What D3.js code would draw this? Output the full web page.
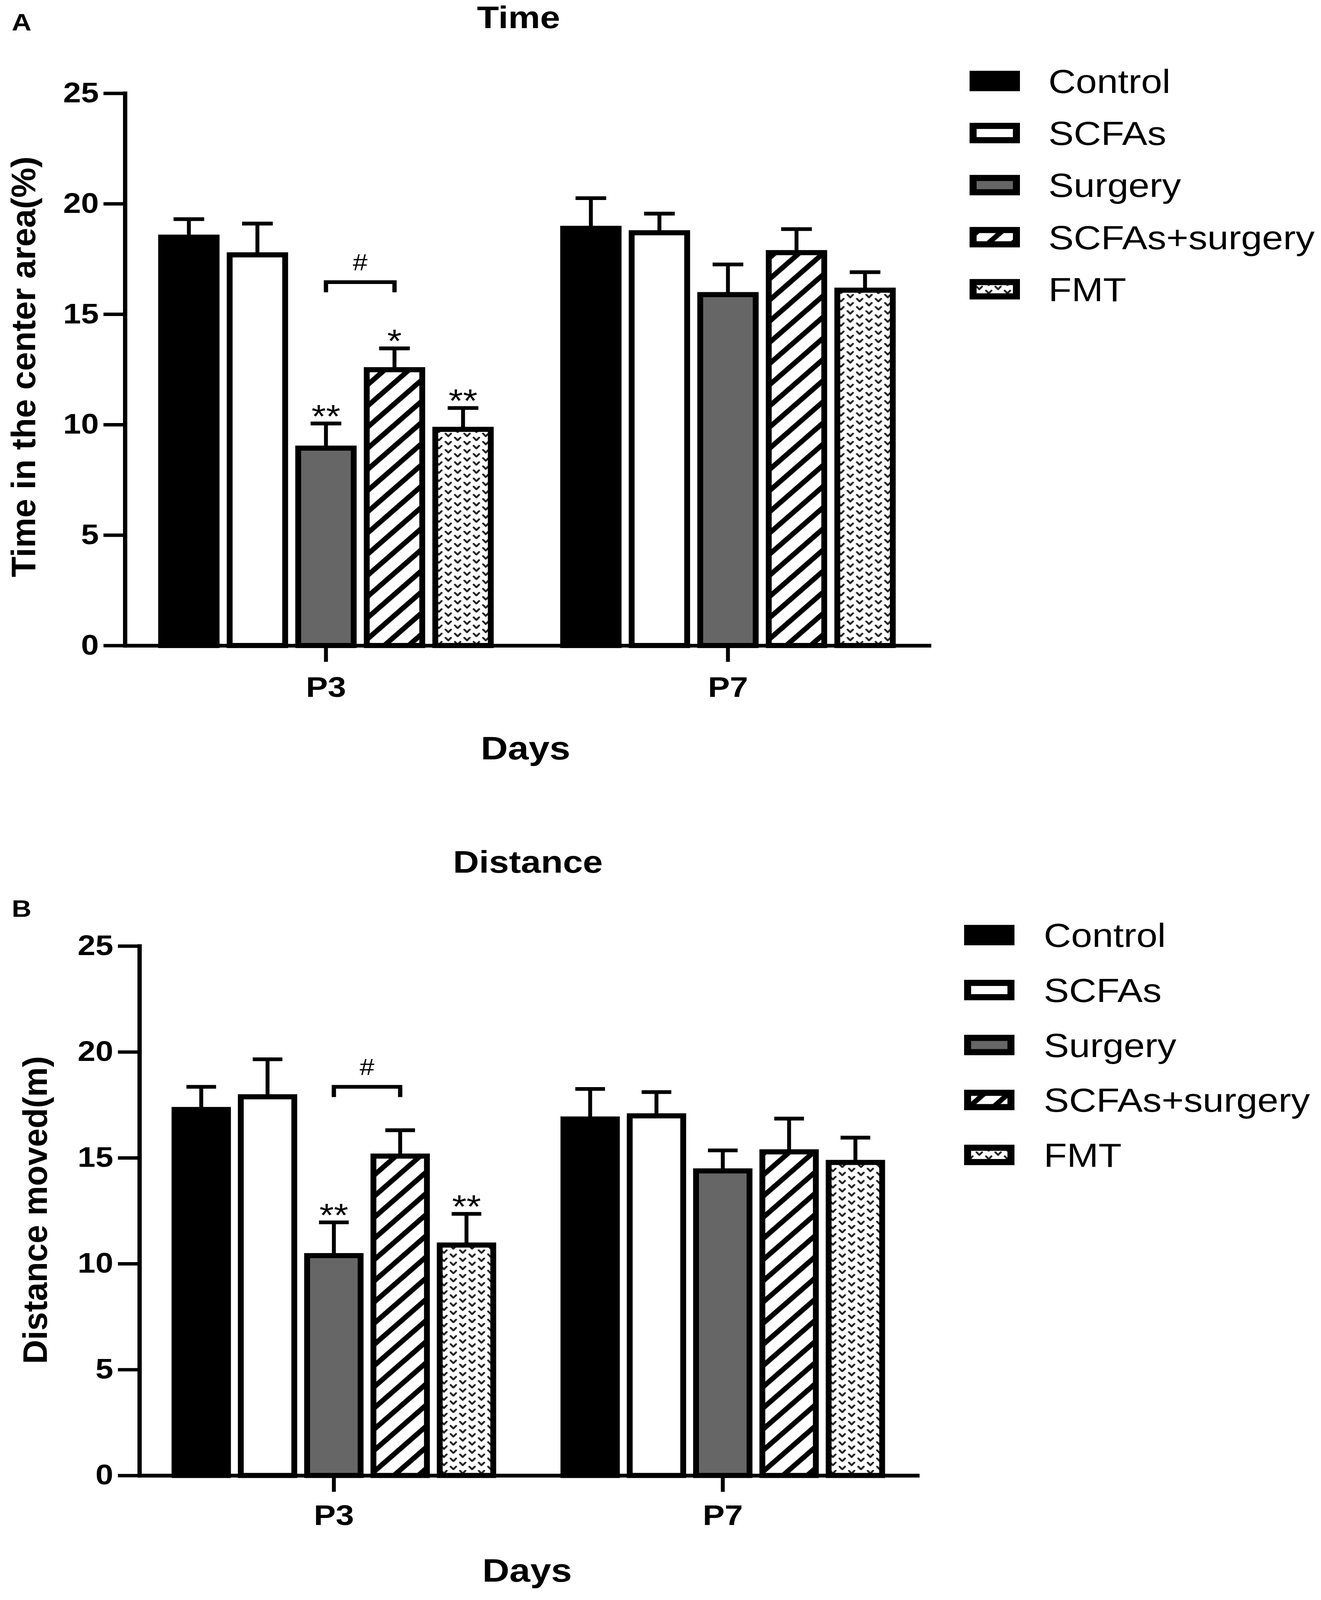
<!DOCTYPE html>
<html lang="en">
<head>
<meta charset="UTF-8">
<title>Time and distance in the open field</title>
<style>
  html, body { margin: 0; padding: 0; background: #fff; overflow: hidden; }
  svg { display: block; }
  text { font-family: "Liberation Sans", Arial, sans-serif; fill: #000; }
</style>
<script src="https://d3js.org/d3.v7.min.js"></script>
</head>
<body>
<script>
var days = ["P3", "P7"];
var groups = ["Control", "SCFAs", "Surgery", "SCFAs+surgery", "FMT"];
var yTicks = [0, 5, 10, 15, 20, 25];

// mean and SEM, one row per day
var timeMean = [[18.6, 17.8, 9.05, 12.6, 9.9], [19.0, 18.8, 16.0, 17.9, 16.2]];
var timeErr = [[0.7, 1.3, 1.0, 0.85, 0.85], [1.25, 0.75, 1.25, 0.95, 0.7]];
var distMean = [[17.4, 18.0, 10.5, 15.2, 11.0], [16.95, 17.1, 14.5, 15.4, 14.9]];
var distErr = [[0.95, 1.65, 1.45, 1.1, 1.35], [1.3, 1.0, 0.85, 1.45, 1.05]];

var timeStars = [["", "", "**", "*", "**"], ["", "", "", "", ""]];
var distStars = [["", "", "**", "", "**"], ["", "", "", "", ""]];
var timeBracket = { day: "P3", from: "Surgery", to: "SCFAs+surgery", at: 16.45, label: "#" };
var distBracket = { day: "P3", from: "Surgery", to: "SCFAs+surgery", at: 18.35, label: "#" };

var fills = {
  "Control": "#000",
  "SCFAs": "#fff",
  "Surgery": "#666",
  "SCFAs+surgery": "url(#hatch)",
  "FMT": "url(#chev)"
};

// the figure is laid out on a 3383 x 4702 canvas and stretched to the window
var W = 3383, H = 4702;
var svg = d3.select("body").append("svg")
  .attr("viewBox", "0 0 " + W + " " + H)
  .attr("preserveAspectRatio", "none")
  .attr("width", window.innerWidth)
  .attr("height", window.innerHeight);

var defs = svg.append("defs");
var hatch = defs.append("pattern")
  .attr("id", "hatch")
  .attr("patternUnits", "userSpaceOnUse")
  .attr("width", 44).attr("height", 44)
  .attr("patternTransform", "rotate(45)");
hatch.append("rect").attr("width", 44).attr("height", 44).attr("fill", "#fff");
hatch.append("rect").attr("width", 14).attr("height", 44).attr("fill", "#000");

var chev = defs.append("pattern")
  .attr("id", "chev")
  .attr("patternUnits", "userSpaceOnUse")
  .attr("width", 48).attr("height", 24);
chev.append("rect").attr("width", 48).attr("height", 24).attr("fill", "#fff");
[[12, 6], [36, 18]].forEach(function (p) {
  chev.append("path")
    .attr("d", "M" + (p[0] - 7) + "," + (p[1] - 4) + "L" + p[0] + "," + (p[1] + 4) + "L" + (p[0] + 7) + "," + (p[1] - 4))
    .attr("fill", "none").attr("stroke", "#222")
    .attr("stroke-width", 5).attr("stroke-linecap", "round").attr("stroke-linejoin", "round");
});

function drawPanel(p) {
  var sw = 15;
  var y = d3.scaleLinear().domain([0, 25]).range([p.bottom, p.top]);
  var x0 = d3.scaleBand().domain(days).range([p.left, p.right]);
  var x1 = d3.scaleBand().domain(groups).range([0, x0.bandwidth()])
    .paddingInner(0.105).paddingOuter(0.485);
  var bw = x1.bandwidth();

  var g = svg.append("g");

  days.forEach(function (day, di) {
    var dg = g.append("g").attr("transform", "translate(" + x0(day) + ",0)");
    groups.forEach(function (grp, gi) {
      var v = p.mean[di][gi], e = p.err[di][gi];
      var cx = x1(grp) + bw / 2;
      // error bar (upper only)
      dg.append("line")
        .attr("x1", cx).attr("x2", cx)
        .attr("y1", y(v) + sw).attr("y2", y(v + e))
        .attr("stroke", "#000").attr("stroke-width", 10);
      dg.append("line")
        .attr("x1", cx - bw / 4).attr("x2", cx + bw / 4)
        .attr("y1", y(v + e)).attr("y2", y(v + e))
        .attr("stroke", "#000").attr("stroke-width", 11);
      dg.append("rect")
        .attr("x", x1(grp) + sw / 2)
        .attr("width", bw - sw)
        .attr("y", y(v) + sw / 2)
        .attr("height", y(0) - y(v) - sw / 2)
        .attr("fill", fills[grp])
        .attr("stroke", "#000")
        .attr("stroke-width", sw);
      if (p.stars[di][gi]) {
        dg.append("text")
          .attr("x", cx).attr("y", y(v + e) + 12)
          .attr("text-anchor", "middle")
          .attr("font-size", 95)
          .text(p.stars[di][gi]);
      }
    });
  });

  // significance bracket
  var b = p.bracket;
  var bx1 = x0(b.day) + x1(b.from) + bw / 2;
  var bx2 = x0(b.day) + x1(b.to) + bw / 2;
  g.append("path")
    .attr("d", "M" + bx1 + "," + (y(b.at) + 30) + "V" + y(b.at) + "H" + bx2 + "V" + (y(b.at) + 30))
    .attr("fill", "none").attr("stroke", "#000").attr("stroke-width", 11);
  g.append("text")
    .attr("x", (bx1 + bx2) / 2).attr("y", y(b.at) - 35)
    .attr("text-anchor", "middle").attr("font-size", 68)
    .text(b.label);

  // axes
  var yAxis = g.append("g")
    .attr("transform", "translate(" + p.left + ",0)")
    .call(d3.axisLeft(y).tickValues(yTicks).tickSize(55).tickSizeOuter(0).tickPadding(12));
  var xAxis = g.append("g")
    .attr("transform", "translate(0," + p.bottom + ")")
    .call(d3.axisBottom(x0).tickSize(48).tickSizeOuter(0).tickPadding(p.xPad));
  [yAxis, xAxis].forEach(function (ax) {
    ax.select(".domain").attr("stroke-width", 11).attr("stroke-linecap", "square");
    ax.selectAll(".tick line").attr("stroke-width", 10);
    ax.selectAll(".tick text")
      .attr("font-family", "Liberation Sans, Arial, sans-serif")
      .attr("font-weight", "bold");
  });
  yAxis.selectAll(".tick text").attr("font-size", 82);
  xAxis.selectAll(".tick text").attr("font-size", 84);

  // titles
  g.append("text")
    .attr("x", p.titleX).attr("y", p.titleY)
    .attr("text-anchor", "middle").attr("font-size", 92).attr("font-weight", "bold")
    .text(p.title);
  g.append("text")
    .attr("x", 30).attr("y", p.letterY)
    .attr("font-size", 70).attr("font-weight", "bold")
    .text(p.letter);
  g.append("text")
    .attr("transform", "translate(" + p.yTitleX + "," + p.yTitleY + ") rotate(-90)")
    .attr("text-anchor", "middle").attr("font-size", 88).attr("font-weight", "bold")
    .attr("textLength", p.yTitleLen).attr("lengthAdjust", "spacingAndGlyphs")
    .text(p.yTitle);
  g.append("text")
    .attr("x", p.daysX).attr("y", p.daysY)
    .attr("text-anchor", "middle").attr("font-size", 96).attr("font-weight", "bold")
    .text("Days");

  // legend
  var lg = g.append("g");
  groups.forEach(function (grp, i) {
    var cy = p.legY + i * p.legStep;
    lg.append("rect")
      .attr("x", p.legX + 9).attr("y", cy - 21)
      .attr("width", 111).attr("height", 42)
      .attr("fill", fills[grp]).attr("stroke", "#000").attr("stroke-width", 18);
    lg.append("text")
      .attr("x", p.legTextX).attr("y", cy + 35)
      .attr("font-size", 97)
      .text(grp);
  });
}

drawPanel({
  mean: timeMean, err: timeErr, stars: timeStars, bracket: timeBracket,
  left: 320, right: 2379, top: 274, bottom: 1897, xPad: 43,
  title: "Time", titleX: 1328, titleY: 83,
  letter: "A", letterY: 90,
  yTitle: "Time in the center area(%)", yTitleX: 90, yTitleY: 1078, yTitleLen: 1237,
  daysX: 1346, daysY: 2232,
  legX: 2483, legY: 238, legStep: 153, legTextX: 2685
});

drawPanel({
  mean: distMean, err: distErr, stars: distStars, bracket: distBracket,
  left: 357, right: 2349, top: 2780, bottom: 4336, xPad: 38,
  title: "Distance", titleX: 1352, titleY: 2565,
  letter: "B", letterY: 2694,
  yTitle: "Distance moved(m)", yTitleX: 120, yTitleY: 3556, yTitleLen: 905,
  daysX: 1350, daysY: 4648,
  legX: 2469, legY: 2748, legStep: 161.5, legTextX: 2673
});
</script>
</body>
</html>
